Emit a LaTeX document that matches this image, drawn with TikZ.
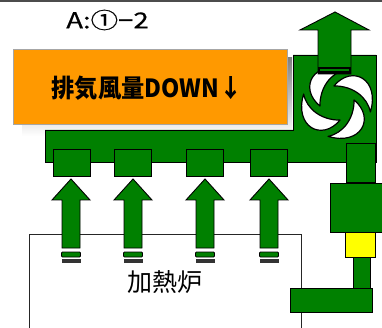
\documentclass[tikz,border=0pt]{standalone}
\usepackage{fontspec}
\newfontfamily\jpfont{Noto Sans CJK JP}
\newfontfamily\jptagfont[FakeBold=0.6]{Noto Sans CJK JP}
\definecolor{duct}{RGB}{0,128,0}
\definecolor{panel}{RGB}{255,153,0}
\definecolor{shade}{RGB}{190,190,190}
\definecolor{lamp}{RGB}{255,255,0}
\tikzset{
  ductpart/.style={fill=duct, draw=black, line width=0.9pt, line join=miter},
  blade/.style={fill=white, draw=black, line width=1.2pt, line join=round},
}
\begin{document}
\begin{tikzpicture}[x=1pt, y=-1pt]
\useasboundingbox (0,0) rectangle (382,328);
\begin{scope}
\clip (0,0) rectangle (382,328);

% top rule
\fill[black!70] (0,0) rectangle (382,2.5);

% furnace outline
\draw[line width=0.8pt, black!85] (29,335) -- (29,234) -- (301,234) -- (301,335);

% message panel with its drop shadow
\fill[shade] (22,58) rectangle (292,136);
\draw[fill=panel, draw=black!35, line width=1pt] (13,50) rectangle (287,125);

% fan housing joined with the collecting duct
\draw[ductpart] (45,130) -- (293,130) -- (293,55) -- (376,55) -- (376,162) -- (45,162) -- cycle;

% fan blades (four crescents swirling clockwise)
\begin{scope}[shift={(337,103)}, scale=1.08]
  \foreach \r in {0,90,180,270}{
    \draw[blade, rotate=\r] (-2.8,-15.8) .. controls (14,-36) and (40,-22) .. (30.9,8.3)
                            .. controls (28,-6) and (14,-16) .. cycle;
  }
\end{scope}

% exhaust arrow above the fan
\draw[ductpart] (318,74) -- (318,30) -- (300,30) -- (335,12) -- (369,30) -- (351,30) -- (351,74) -- cycle;
\fill[black] (318,67) rectangle (351,74.5);
\fill[duct] (320,69.5) rectangle (349,71.5);

% suction hoods under the duct
\foreach \x in {53,114,186,250}{
  \draw[ductpart] (\x,149) rectangle (\x+37,176);
}

% rising air from the furnace
\foreach \c in {71,133,205,269}{
  \draw[ductpart] (\c-9,248) -- (\c-9,200) -- (\c-19,200) -- (\c,179) -- (\c+19,200)
                 -- (\c+9,200) -- (\c+9,248) -- cycle;
  \draw[ductpart, line width=0.8pt, rounded corners=1pt] (\c-9.5,252) rectangle (\c+9.5,257);
  \fill[black!80] (\c-9.5,259) rectangle (\c+9.5,262.5);
}

% return duct on the right
\draw[ductpart] (346,143) rectangle (375,182);
\draw[ductpart] (330,183) rectangle (386,232);
\draw[fill=lamp, draw=black, line width=0.9pt] (345,232) rectangle (375,257);
\draw[ductpart] (353,257) rectangle (370,288);
\draw[ductpart] (290,288) rectangle (372,312);

% labels
\node[font=\jptagfont\fontsize{22}{22}\selectfont, inner sep=0pt] (tag) at (107.5,20)
  {\scalebox{1.25}[1]{A:①−2}};
\node[font=\jpfont\bfseries\fontsize{25}{25}\selectfont, inner sep=0pt] (notice) at (147,88)
  {\scalebox{0.93}[1]{排気風量DOWN↓}};
\node[font=\jpfont\fontsize{25}{25}\selectfont, inner sep=0pt] (furnace) at (165,282) {加熱炉};
\end{scope}
\end{tikzpicture}
\end{document}
